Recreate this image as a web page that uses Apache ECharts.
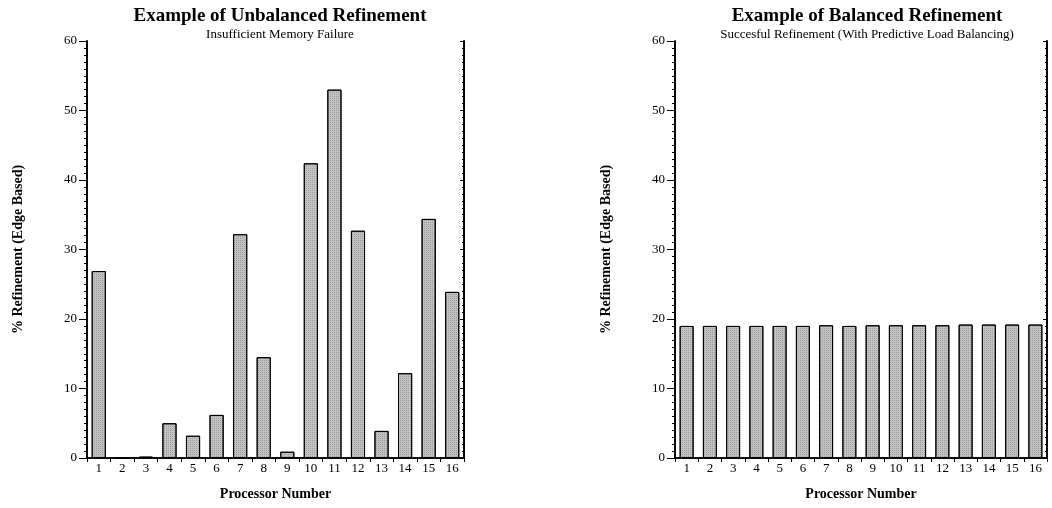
<!DOCTYPE html>
<html>
<head>
<meta charset="utf-8">
<script src="https://cdn.jsdelivr.net/npm/echarts@6/dist/echarts.min.js"></script>
<style>html,body{margin:0;padding:0;background:#fff;}#c{width:1052px;height:508px;}</style>
</head>
<body>
<div id="c"></div>
<script>
const processors = ['1','2','3','4','5','6','7','8','9','10','11','12','13','14','15','16'];
const unbalanced = [26.9, 0, 0.2, 5.0, 3.2, 6.2, 32.2, 14.5, 0.9, 42.4, 53.0, 32.7, 3.9, 12.2, 34.4, 23.9];
const balanced = [19.0, 19.0, 19.0, 19.0, 19.0, 19.0, 19.1, 19.0, 19.1, 19.1, 19.1, 19.1, 19.2, 19.2, 19.2, 19.2];
const titles = ['Example of Unbalanced Refinement', 'Example of Balanced Refinement'];
const subtitles = ['Insufficient Memory Failure', 'Succesful Refinement (With Predictive Load Balancing)'];
const yName = '% Refinement (Edge Based)';
const xName = 'Processor Number';

const serif = 'Liberation Serif';
const grids = [
  {left: 87, right: 588, top: 41, bottom: 50},
  {left: 675, right: 5, top: 41, bottom: 50}
];
const centers = [275, 862];

const xAxes = [], yAxes = [], series = [], titleArr = [];
[0,1].forEach(i => {
  titleArr.push({
    text: titles[i], subtext: subtitles[i], left: centers[i], top: 2, textAlign: 'center',
    itemGap: 2,
    textStyle: {fontFamily: serif, fontWeight: 'bold', fontSize: 19, color: '#000'},
    subtextStyle: {fontFamily: serif, fontSize: 13, color: '#000'}
  });
  xAxes.push({
    type: 'category', gridIndex: i, data: processors, position: 'bottom',
    name: xName, nameLocation: 'middle', nameGap: 29,
    nameTextStyle: {fontFamily: serif, fontWeight: 'bold', fontSize: 14, color: '#000'},
    axisLine: {lineStyle: {color: '#000', width: 1.5}},
    axisTick: {show: true, length: 4, lineStyle: {color: '#000'}},
    axisLabel: {fontFamily: serif, fontSize: 13, color: '#000', margin: 4},
    splitLine: {show: false}
  });
  xAxes.push({
    type: 'category', gridIndex: i, data: processors, position: 'top',
    axisLine: {lineStyle: {color: '#000', width: 1.5}},
    axisTick: {show: true, inside: true, length: 4, lineStyle: {color: '#000'}},
    axisLabel: {show: false}, splitLine: {show: false}
  });
  yAxes.push({
    type: 'value', gridIndex: i, min: 0, max: 60, interval: 10, position: 'left',
    name: yName, nameLocation: 'middle', nameGap: 62,
    nameTextStyle: {fontFamily: serif, fontWeight: 'bold', fontSize: 14, color: '#000'},
    axisLine: {show: true, lineStyle: {color: '#000', width: 2}},
    axisTick: {show: true, length: 8, lineStyle: {color: '#000'}},
    minorTick: {show: true, splitNumber: 10, length: 3, lineStyle: {color: '#000'}},
    axisLabel: {fontFamily: serif, fontSize: 13, color: '#000', margin: 10},
    splitLine: {show: false}
  });
  yAxes.push({
    type: 'value', gridIndex: i, min: 0, max: 60, interval: 10, position: 'right',
    axisLine: {show: true, lineStyle: {color: '#000', width: 2}},
    axisTick: {show: true, inside: true, length: 4, lineStyle: {color: '#000'}},
    minorTick: {show: true, splitNumber: 10, length: 2, lineStyle: {color: '#000'}},
    axisLabel: {show: false}, splitLine: {show: false}
  });
  series.push({
    type: 'bar', xAxisIndex: i*2, yAxisIndex: i*2,
    data: i === 0 ? unbalanced : balanced,
    barCategoryGap: '40%',
    itemStyle: {color: '#c2c2c2', borderColor: '#000', borderWidth: 1,
      decal: {symbol: 'rect', symbolSize: 1, dashArrayX: [1, 1], dashArrayY: [1, 1], color: 'rgba(90,90,90,0.35)', rotation: 0}}
  });
});

const chart = echarts.init(document.getElementById('c'), null, {renderer: 'canvas'});
chart.setOption({
  animation: false,
  backgroundColor: '#fff',
  aria: {enabled: true, decal: {show: true}},
  title: titleArr,
  grid: grids,
  xAxis: xAxes,
  yAxis: yAxes,
  series: series
});
</script>
</body>
</html>
